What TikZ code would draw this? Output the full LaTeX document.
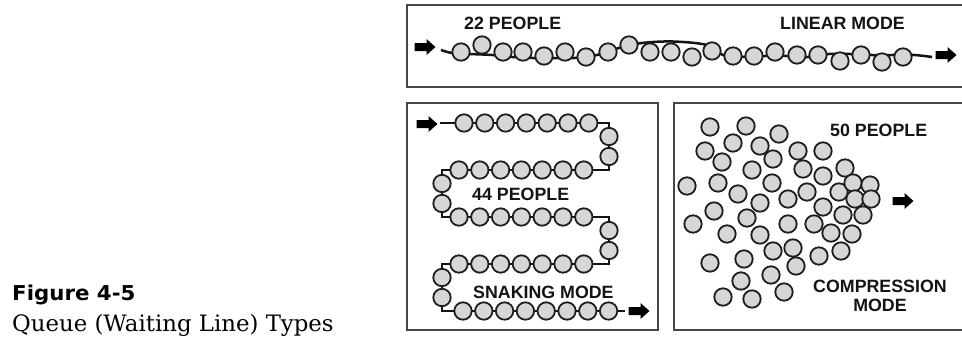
\documentclass[tikz,border=0pt]{standalone}
\usepackage{fontspec}
\setmainfont{Liberation Sans}
\newfontfamily\capsans{DejaVu Sans}
\newfontfamily\capserif{DejaVu Serif}
\begin{document}
\begin{tikzpicture}[x=1pt,y=-1pt,
  person/.style={circle,draw=black!88,fill=black!16,line width=1.8pt,minimum size=17.4pt,inner sep=0pt},
  queueline/.style={line width=2.5pt,draw=black!92,line join=miter},
  panel/.style={draw=black!72,line width=2pt},
  blockarrow/.pic={\fill[black] (-10.5,-4) -- (1.5,-4) -- (1.5,-8) -- (10.5,0) -- (1.5,8) -- (1.5,4) -- (-10.5,4) -- cycle;},
  lbl/.style={font=\fontsize{17.8}{19}\selectfont\bfseries,text=black!92,inner sep=0pt},
]
\useasboundingbox (0,0) rectangle (962,340);
\fill[white] (0,0) rectangle (962,340);

% panels
\draw[panel] (407,5) rectangle (968,87);
\draw[panel] (407,103) rectangle (658,330);
\draw[panel] (674,103) rectangle (968,330);

% ---------- linear mode ----------
\coordinate (ls) at (441,50);
\coordinate (le) at (932,57);
\foreach \n/\x/\y in {1/452/53,2/470/54,3/492/55,4/512/57,5/533/58,6/553/58,7/574/58,8/597/55,9/619/48,10/642/43,11/673/41.5,12/707/45,13/723/55,14/744/57,15/765/56,16/786/56,17/808/57,18/829/54,19/850/54,20/872/55,21/892/55,22/914/55}
  \coordinate (w\n) at (\x,\y);
\draw[queueline] plot[smooth,tension=0.55] coordinates {(ls) (w1) (w2) (w3) (w4) (w5) (w6) (w7) (w8) (w9) (w10) (w11) (w12) (w13) (w14) (w15) (w16) (w17) (w18) (w19) (w20) (w21) (w22) (le)};
\foreach \i/\x/\y in {1/461/52,2/482/45,3/503/52,4/523/52,5/544/56,6/565/52,7/586/57,8/608/52,9/629/45,10/650/52,11/671/52,12/692/57,13/712/51,14/733/56,15/754/56,16/775/52,17/797/55,18/818/55,19/840/61,20/861/55,21/882/62,22/903/57}
  \node[person] (lin\i) at (\x,\y) {};
\coordinate (linin) at (425,47);
\coordinate (linout) at (946,55);
\pic at (linin) {blockarrow};
\pic at (linout) {blockarrow};
\node[lbl,anchor=base west] (t22) at (464,29) {22 PEOPLE};
\node[lbl,anchor=base east] (tlin) at (905,29) {LINEAR MODE};

% ---------- snaking mode ----------
\coordinate (ss) at (440,123);
\coordinate (sc1) at (609,123);
\coordinate (sc2) at (609,170);
\coordinate (sc3) at (442,170);
\coordinate (sc4) at (442,217);
\coordinate (sc5) at (609,217);
\coordinate (sc6) at (609,264);
\coordinate (sc7) at (442,264);
\coordinate (sc8) at (442,311);
\coordinate (se) at (625,311);
\draw[queueline] (ss) -- (sc1) -- (sc2) -- (sc3) -- (sc4) -- (sc5) -- (sc6) -- (sc7) -- (sc8) -- (se);
\foreach \k in {0,...,6} {
  \node[person] (sa\k) at (464+20.8*\k,123) {};
  \node[person] (sb\k) at (459+20.8*\k,170) {};
  \node[person] (sc\k) at (459+20.8*\k,217) {};
  \node[person] (sd\k) at (459+20.8*\k,264) {};
}
\foreach \k in {0,...,7}
  \node[person] (se\k) at (463+20.8*\k,311) {};
\node[person] (cr1) at (609,136.5) {};
\node[person] (cr2) at (609,156.5) {};
\node[person] (cl1) at (442,183.5) {};
\node[person] (cl2) at (442,203.5) {};
\node[person] (cr3) at (609,230.5) {};
\node[person] (cr4) at (609,250.5) {};
\node[person] (cl3) at (442,277.5) {};
\node[person] (cl4) at (442,297.5) {};
\coordinate (snin) at (427,124);
\coordinate (snout) at (639,311);
\pic at (snin) {blockarrow};
\pic at (snout) {blockarrow};
\node[lbl,anchor=base west] (t44) at (472,200) {44 PEOPLE};
\node[lbl,anchor=base west] (tsnk) at (473,298) {SNAKING MODE};

% ---------- compression mode ----------
\foreach \i/\x/\y in {1/710/127,2/746/126,3/779/134,4/705/151,5/733/143,6/760/146,7/722/162,8/773/159,9/798/151,10/823/151,
  11/752/170,12/803/169,13/823/176,14/845/168,15/687/186,16/718/183,17/772/183,18/738/194,19/760/203,20/788/199,
  21/807/192,22/839/192,23/853/183,24/870/185,25/855/199,26/871/199,27/714/211,28/823/207,29/693/224,30/747/218,
  31/788/224,32/814/224,33/843/215,34/863/215,35/727/234,36/760/235,37/831/233,38/852/234,39/773/251,40/793/248,
  41/819/256,42/841/251,43/710/263,44/744/259,45/796/266,46/771/275,47/741/281,48/784/292,49/723/297,50/752/299}
  \node[person] (cp\i) at (\x,\y) {};
\coordinate (cpout) at (903,201);
\pic at (cpout) {blockarrow};
\node[lbl,anchor=base west] (t50) at (830,136) {50 PEOPLE};
\node[lbl,anchor=base] (tcomp) at (880,292) {COMPRESSION};
\node[lbl,anchor=base] (tcmode) at (880,311) {MODE};

% ---------- caption ----------
\node[font=\capsans\bfseries\fontsize{20.5}{22}\selectfont,anchor=base west,inner sep=0pt,xscale=1.04] (figno) at (12,300.5) {Figure 4-5};
\node[font=\capserif\fontsize{22.6}{24}\selectfont,anchor=base west,inner sep=0pt,xscale=1.01] (figtitle) at (12,331) {Queue (Waiting Line) Types};
\end{tikzpicture}
\end{document}
